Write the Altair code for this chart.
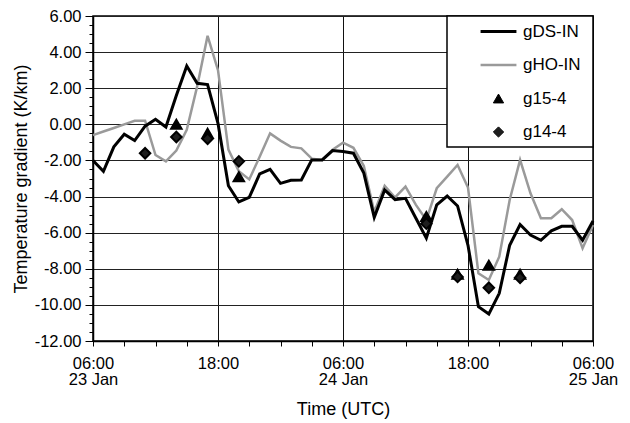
import altair as alt
import pandas as pd

# Hours after 06:00 UTC on 23 Jan
hours = list(range(49))

# Hourly temperature gradients (K/km)
gds_in = [-2.0, -2.6, -1.25, -0.55, -0.9, -0.1, 0.28, -0.15, 1.6, 3.23,
          2.27, 2.2, 0.05, -3.4, -4.3, -4.05, -2.75, -2.5, -3.27, -3.1,
          -3.08, -1.97, -1.97, -1.45, -1.5, -1.6, -2.7, -5.15, -3.63, -4.17,
          -4.1, -5.2, -6.3, -4.46, -3.97, -4.52, -6.7, -10.1, -10.5, -9.36,
          -6.7, -5.55, -6.13, -6.42, -5.9, -5.65, -5.65, -6.42, -5.35]
gho_in = [-0.6, -0.4, -0.2, 0.0, 0.2, 0.2, -1.7, -2.05, -1.45, -0.3,
          2.1, 4.9, 3.0, -1.4, -2.6, -3.05, -1.8, -0.5, -0.9, -1.25,
          -1.33, -1.9, -1.97, -1.4, -1.02, -1.3, -2.3, -4.85, -3.4, -4.05,
          -3.45, -4.46, -5.3, -3.54, -2.9, -2.25, -3.5, -8.25, -8.62, -7.33,
          -4.19, -1.97, -3.82, -5.2, -5.2, -4.7, -5.3, -6.86, -5.57]

# Point measurements
g15_hours = [8, 11, 14, 32, 35, 38, 41]
g15_vals = [0.0, -0.5, -2.9, -5.1, -8.3, -7.8, -8.3]
g14_hours = [5, 8, 11, 14, 32, 35, 38, 41]
g14_vals = [-1.6, -0.7, -0.8, -2.05, -5.5, -8.45, -9.05, -8.5]

series = ["gDS-IN", "gHO-IN", "g15-4", "g14-4"]

# x tick labels (two lines: time, date)
tick_hours = [0, 12, 24, 36, 48]
tick_time = ["06:00", "18:00", "06:00", "18:00", "06:00"]
tick_day = ["23 Jan", "", "24 Jan", "", "25 Jan"]

df_ds = pd.DataFrame({"hour": hours, "value": gds_in, "series": "gDS-IN"})
df_ho = pd.DataFrame({"hour": hours, "value": gho_in, "series": "gHO-IN"})
df_pts = pd.concat([
    pd.DataFrame({"hour": g15_hours, "value": g15_vals, "series": "g15-4"}),
    pd.DataFrame({"hour": g14_hours, "value": g14_vals, "series": "g14-4"}),
])

FONT = "Liberation Sans"
LINE_SYMBOL = "M-3.5,0H3.5"   # long horizontal stroke for the line entries

stroke_scale = alt.Scale(domain=series, range=["#000000", "#9a9a9a", "#000000", "#000000"])
fill_scale = alt.Scale(domain=series, range=["#000000", "#9a9a9a", "#000000", "#1e1e1e"])
shape_scale = alt.Scale(domain=series, range=[LINE_SYMBOL, LINE_SYMBOL, "triangle-up", "diamond"])
sw_scale = alt.Scale(type="ordinal", domain=series, range=[3, 2.5, 1, 1])

def js_list(items):
    return "[" + ",".join(repr(i) if isinstance(i, str) else str(i) for i in items) + "]"

idx = f"indexof({js_list(tick_hours)}, datum.value)"
x_label_expr = (f"{idx} >= 0 ? [{js_list(tick_time)}[{idx}], "
                f"{js_list(tick_day)}[{idx}]] : ''")
y_label_expr = "datum.value % 2 == 0 ? replace(format(datum.value, '.2f'), '\u2212', '-') : ''"

x_axis = alt.Axis(
    values=list(range(0, 49, 3)),
    labelExpr=x_label_expr,
    labelOverlap=False,
    labelFlush=False,
    labelPadding=9,
    labelLineHeight=16.5,
    tickSize=5,
    grid=True,
    gridColor="#111111",
    gridWidth=1,
    gridOpacity={"condition": {"test": "datum.value % 12 == 0", "value": 1}, "value": 0},
    title="Time (UTC)",
    titlePadding=12,
)
y_axis = alt.Axis(
    values=[-12 + 0.5 * i for i in range(37)],
    labelExpr=y_label_expr,
    labelOverlap=False,
    labelFlush=False,
    labelPadding=4,
    tickSize={"condition": {"test": "datum.value % 2 == 0", "value": 8}, "value": 4},
    grid=True,
    gridColor="#222222",
    gridWidth=1,
    gridOpacity={"condition": {"test": "datum.value % 2 == 0", "value": 1}, "value": 0},
    title="Temperature gradient (K/km)",
    titlePadding=4,
)

x_enc = alt.X("hour:Q", scale=alt.Scale(domain=[0, 48], nice=False), axis=x_axis)
y_enc = alt.Y("value:Q", scale=alt.Scale(domain=[-12, 6], nice=False), axis=y_axis)
# blank title placed on the right acts as a spacer inside the legend box
leg = alt.Legend(title="\u00a0\u00a0\u00a0\u00a0", titleOrient="right", titlePadding=5)

def line_layer(df):
    return alt.Chart(df).mark_line(strokeJoin="miter").encode(
        x=x_enc,
        y=y_enc,
        stroke=alt.Stroke("series:N", scale=stroke_scale, legend=leg),
        strokeWidth=alt.StrokeWidth("series:N", scale=sw_scale, legend=leg),
    )

points = alt.Chart(df_pts).mark_point(filled=True, opacity=1, size=110).encode(
    x=x_enc,
    y=y_enc,
    shape=alt.Shape("series:N", scale=shape_scale, legend=leg),
    fill=alt.Fill("series:N", scale=fill_scale, legend=leg),
    stroke=alt.Stroke("series:N", scale=stroke_scale, legend=leg),
)

chart = alt.layer(line_layer(df_ho), line_layer(df_ds), points).properties(
    width=500,
    height=325,
    autosize=alt.AutoSizeParams(type="none"),
    padding={"left": 93, "top": 16, "right": 37, "bottom": 82},
).configure_view(
    stroke="#000000", strokeWidth=1.5
).configure_axis(
    labelFont=FONT, labelFontSize=16.5, labelColor="#000000",
    titleFont=FONT, titleFontSize=18, titleFontWeight="normal", titleColor="#000000",
    domainColor="#000000", domainWidth=1.5, tickColor="#000000", tickWidth=1,
).configure_legend(
    orient="top-right", offset=0,
    strokeColor="#000000", strokeWidth=1.5, fillColor="#ffffff",
    padding=7, symbolOffset=36, labelOffset=16, rowPadding=15.5,
    symbolSize=105, gridAlign="all",
    labelFont=FONT, labelFontSize=17, labelColor="#000000",
    titleFont=FONT, titleFontSize=17,
)

chart.save("out.html", embed_options={"renderer": "svg", "actions": False})
